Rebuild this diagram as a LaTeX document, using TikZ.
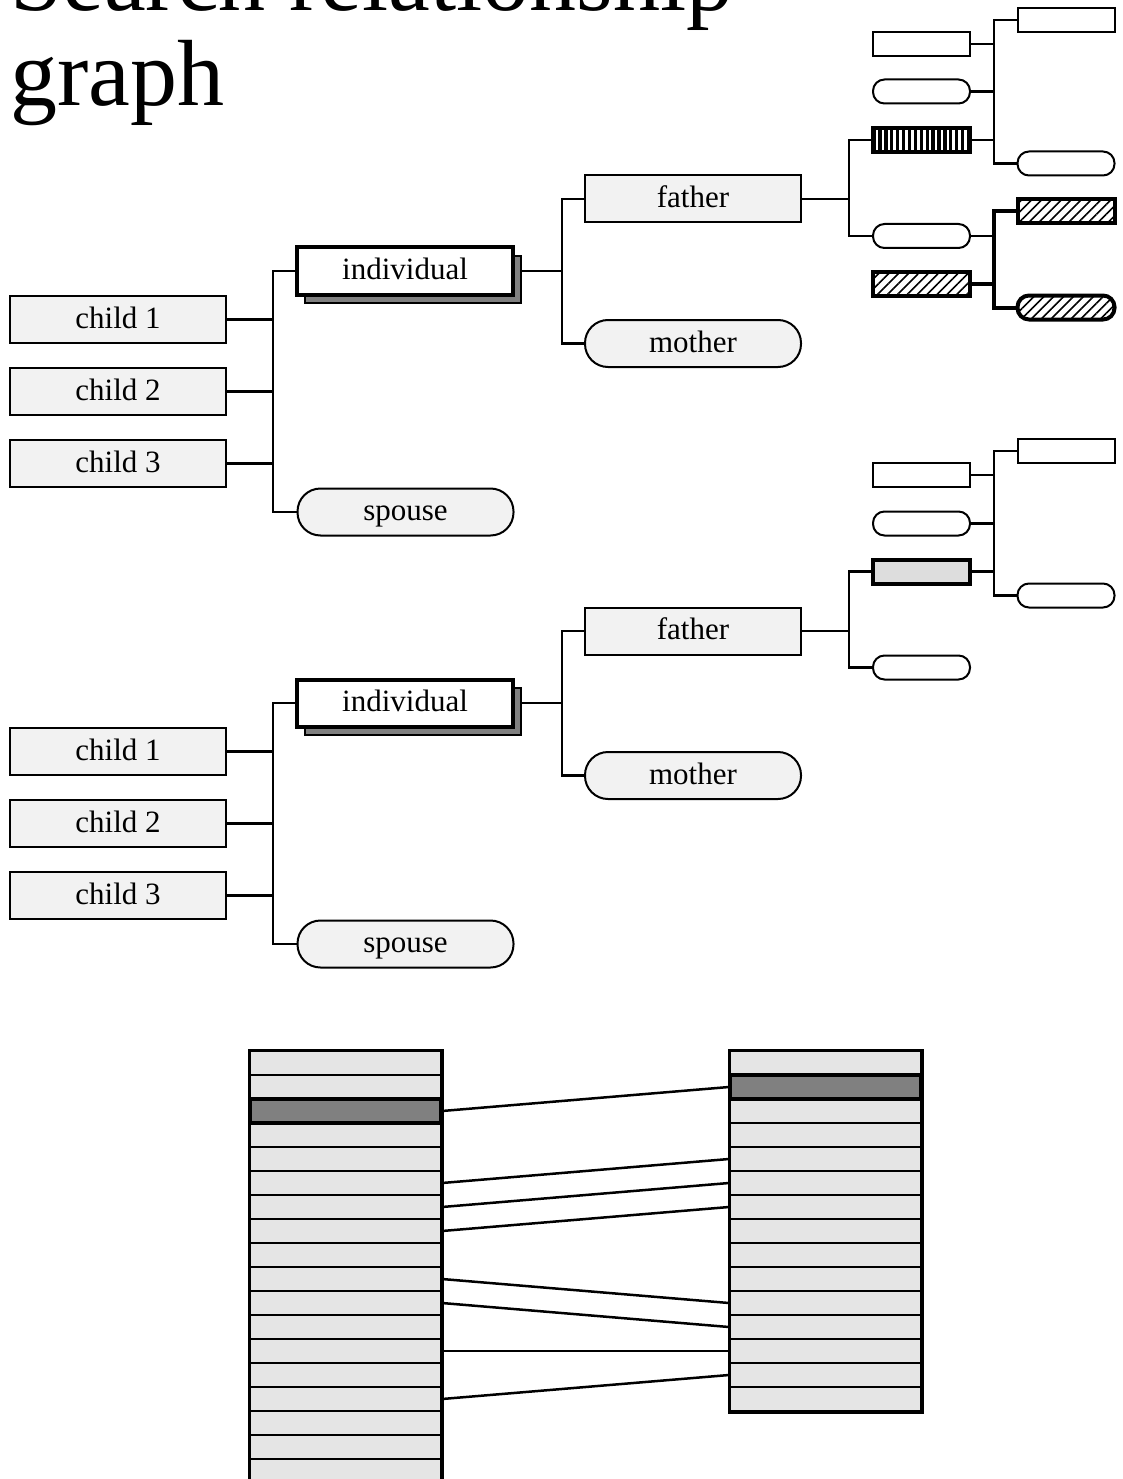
\documentclass[tikz,border=0pt]{standalone}
\usepackage{fontspec}
\setmainfont{Liberation Serif}
\usetikzlibrary{patterns.meta,shadows,backgrounds}
\definecolor{boxfill}{HTML}{F2F2F2}
\definecolor{rowfill}{HTML}{E5E5E5}
\definecolor{darkrow}{HTML}{808080}
\definecolor{shadowgray}{HTML}{808080}
\definecolor{selfill}{HTML}{DDDDDD}
\begin{document}
\begin{tikzpicture}[x=1pt,y=-1pt,
  lbl/.style={font=\fontsize{31}{36}\selectfont,text height=20.5pt,text depth=3.5pt},
  big/.style={draw,line width=2pt,minimum width=216pt,minimum height=47pt,inner sep=0pt,lbl},
  sq/.style={big,fill=boxfill},
  pill/.style={big,fill=boxfill,rounded corners=23pt},
  indiv/.style={big,fill=white,line width=4pt,
    copy shadow={shadow xshift=8pt,shadow yshift=-8pt,fill=shadowgray,draw=black,line width=2pt}},
  small/.style={draw,line width=2pt,minimum width=97pt,minimum height=24pt,inner sep=0pt,fill=white},
  spill/.style={small,rounded corners=11.5pt},
  hatch/.style={line width=4pt,preaction={fill=white},
    pattern={Lines[angle=45,distance=7pt,line width=1.6pt]}},
  stripes/.style={small,line width=4pt,fill=black,
    path picture={\foreach \k in {0,...,15}
      \draw[white,line width=2.6pt]
        ([xshift=\k*5.9pt+4pt]path picture bounding box.north west) --
        ([xshift=\k*5.9pt+4pt]path picture bounding box.south west);}},
  selbox/.style={small,line width=4pt,fill=selfill},
  link/.style={line width=2.2pt},
  tlink/.style={line width=4pt},
  rowbox/.style={draw,line width=2pt,fill=rowfill,minimum width=191pt,minimum height=24pt,inner sep=0pt},
  darkbox/.style={draw,line width=3.5pt,fill=darkrow,minimum width=191pt,minimum height=24pt,inner sep=0pt},
  row link/.style={line width=2.5pt},
  titlefont/.style={font=\fontsize{94}{95}\selectfont}
]
\useasboundingbox (0,0) rectangle (1123,1479);

% title
\node[titlefont,anchor=base west,inner sep=0pt] (title1) at (10,11) {Search relationship};
\node[titlefont,anchor=base west,inner sep=0pt] (title2) at (10,106) {graph};

% ---------- upper tree ----------
\node[sq] (c1) at (118,319.5) {child 1};
\node[sq] (c2) at (118,391.5) {child 2};
\node[sq] (c3) at (118,463.5) {child 3};
\node[indiv] (ind) at (405,271) {individual};
\node[pill] (sp) at (405.5,512) {spouse};
\node[sq] (fa) at (693,199) {father};
\node[pill] (mo) at (693,343.5) {mother};
\node[small] (sA) at (921.5,44) {};
\node[spill] (sB) at (921.5,91.5) {};
\node[stripes] (sC) at (921.5,140) {};
\node[spill] (sD) at (921.5,236) {};
\node[small,hatch] (sE) at (921.5,283.5) {};
\node[small] (sF) at (1066,20) {};
\node[spill] (sG) at (1066,163.5) {};
\node[small,hatch] (sH) at (1066,211) {};
\node[spill,hatch] (sI) at (1066,307.5) {};
\coordinate (bx1) at (273,0);
\coordinate (bx2) at (562,0);
\coordinate (bx3) at (849,0);
\coordinate (bx4) at (994,0);

% ---------- lower tree ----------
\node[sq] (c1b) at (118,751.5) {child 1};
\node[sq] (c2b) at (118,823.5) {child 2};
\node[sq] (c3b) at (118,895.5) {child 3};
\node[indiv] (indb) at (405,703) {individual};
\node[pill] (spb) at (405.5,944) {spouse};
\node[sq] (fab) at (693,631) {father};
\node[pill] (mob) at (693,775.5) {mother};
\node[small] (sAb) at (921.5,475) {};
\node[spill] (sBb) at (921.5,523.5) {};
\node[selbox] (sCb) at (921.5,571.5) {};
\node[spill] (sDb) at (921.5,667.5) {};
\node[small] (sFb) at (1066,451) {};
\node[spill] (sGb) at (1066,595.5) {};

% ---------- bottom columns ----------
\foreach \i in {0,...,17}
  \node[rowbox] (L\i) at (345.5,{1063+24*\i}) {};
\foreach \i in {0,...,14}
  \node[rowbox] (R\i) at (825.5,{1063+24*\i}) {};
\node[darkbox] (L2d) at (L2) {};
\node[darkbox] (R1d) at (R1) {};
\draw[line width=3pt] (L0.north west) rectangle (L17.south east);
\draw[line width=3pt] (R0.north west) rectangle (R14.south east);
\foreach \a/\b in {2/1,5/4,6/5,7/6,9/10,10/11,12/12,14/13}
  \draw[row link] (L\a.east) -- (R\b.west);

% ---------- connectors ----------
\begin{pgfonlayer}{background}
  \foreach \s in {,b}{
    \draw[link] (c1\s.east) -- (c1\s.east -| bx1);
    \draw[link] (c2\s.east) -- (c2\s.east -| bx1);
    \draw[link] (c3\s.east) -- (c3\s.east -| bx1);
    \draw[link] (ind\s.west) -- (ind\s.west -| bx1) -- (sp\s.west -| bx1) -- (sp\s.west);
    \draw[link] (ind\s.east) -- (ind\s.east -| bx2);
    \draw[link] (fa\s.west) -- (fa\s.west -| bx2) -- (mo\s.west -| bx2) -- (mo\s.west);
    \draw[link] (fa\s.east) -- (fa\s.east -| bx3);
    \draw[link] (sC\s.west) -- (sC\s.west -| bx3) -- (sD\s.west -| bx3) -- (sD\s.west);
    \draw[link] (sA\s.east) -- (sA\s.east -| bx4);
    \draw[link] (sB\s.east) -- (sB\s.east -| bx4);
    \draw[link] (sC\s.east) -- (sC\s.east -| bx4);
    \draw[link] (sF\s.west) -- (sF\s.west -| bx4) -- (sG\s.west -| bx4) -- (sG\s.west);
  }
  \draw[link] (sD.east) -- (sD.east -| bx4);
  \draw[tlink] (sE.east) -- (sE.east -| bx4);
  \draw[tlink] (sH.west) -- (sH.west -| bx4) -- (sI.west -| bx4) -- (sI.west);
\end{pgfonlayer}
\end{tikzpicture}
\end{document}
